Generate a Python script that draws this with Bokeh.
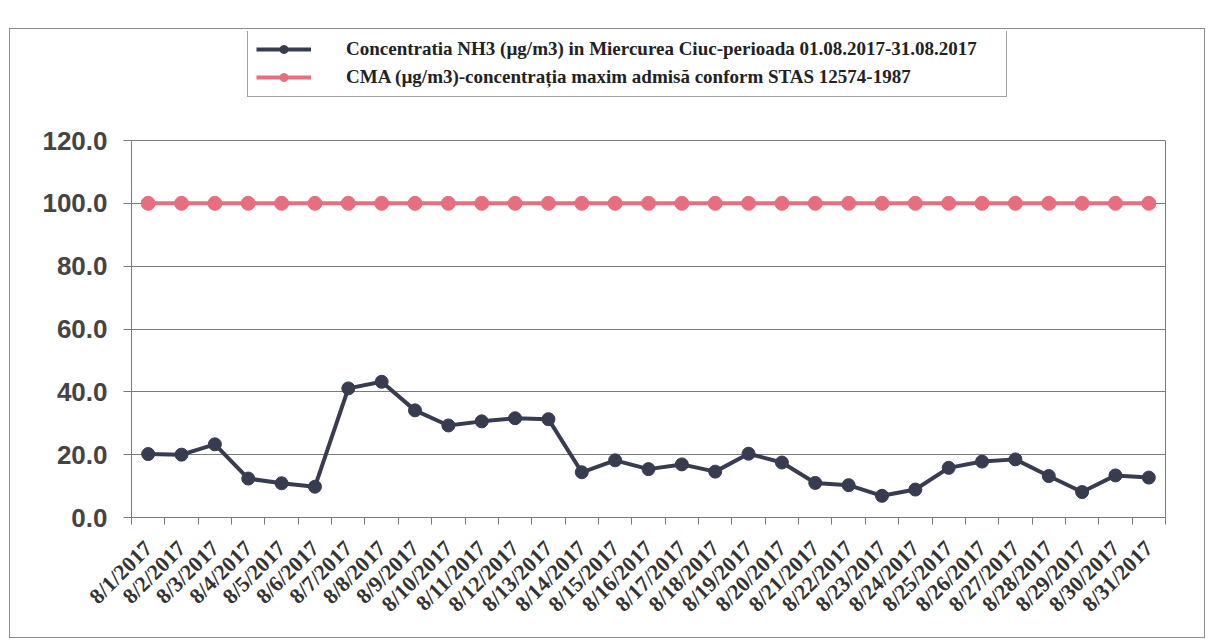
import math
from bokeh.plotting import figure
from bokeh.models import (FixedTicker, Legend, LegendItem, ColumnDataSource,
                          PrintfTickFormatter, LinearAxis)
from bokeh.embed import file_html
from bokeh.resources import INLINE

dates = [f"8/{d}/2017" for d in range(1, 32)]
nh3 = [20.2, 20.0, 23.3, 12.4, 10.9, 9.8, 41.1, 43.2, 34.1, 29.3, 30.6, 31.6, 31.3,
       14.4, 18.2, 15.4, 16.9, 14.6, 20.3, 17.5, 11.0, 10.3, 6.9, 8.9, 15.8, 17.8,
       18.5, 13.2, 8.1, 13.4, 12.7]
cma = [100.0] * 31
y_ticks = [0, 20, 40, 60, 80, 100, 120]
y_max = 120

label_nh3 = "Concentratia NH3 (\u00b5g/m3) in Miercurea Ciuc-perioada 01.08.2017-31.08.2017"
label_cma = "CMA (\u00b5g/m3)-concentra\u021bia maxim admis\u0103 conform STAS 12574-1987"

idx = list(range(len(dates)))
src = ColumnDataSource(dict(x=idx, nh3=nh3, cma=cma))

# frame extends above the value area to hold the legend
H, top, bottom = 610, 2, 122
frame_h = H - top - bottom
value_h = 377
y_end = y_max * frame_h / value_h

p = figure(width=1196, height=H, output_backend="svg", toolbar_location=None,
           x_range=(-0.5, len(dates) - 0.5), y_range=(0, y_end),
           min_border_left=121, min_border_right=41, min_border_top=top,
           min_border_bottom=bottom)
p.styles = {"border": "1.5px solid #8c8c8c", "margin-top": "28px", "margin-left": "9px"}

dark = "#383c50"
red = "#e66e7e"
frame_col = "#7a7a7a"

l1 = p.line("x", "nh3", source=src, line_color=dark, line_width=4)
m1 = p.scatter("x", "nh3", source=src, size=13, fill_color=dark, line_color=dark)
l2 = p.line("x", "cma", source=src, line_color=red, line_width=4)
m2 = p.scatter("x", "cma", source=src, size=14, fill_color=red, line_color=red)

legend = Legend(items=[LegendItem(label=label_nh3, renderers=[l1, m1]),
                       LegendItem(label=label_cma, renderers=[l2, m2])],
                location=(116, 420), orientation="vertical")
legend.label_text_font = "Liberation Serif"
legend.label_text_font_size = "19px"
legend.label_text_font_style = "bold"
legend.label_text_color = "#222222"
legend.glyph_width = 55
legend.glyph_height = 20
legend.label_height = 20
legend.label_standoff = 35
legend.label_width = 652
legend.spacing = 6
legend.padding = 8
legend.margin = 0
legend.border_line_color = "#444444"
legend.border_line_width = 1.5
legend.background_fill_color = "white"
p.add_layout(legend, "center")

# axes
p.yaxis.ticker = FixedTicker(ticks=y_ticks)
p.yaxis.bounds = (0, y_max)
p.yaxis.formatter = PrintfTickFormatter(format="%.1f")
p.yaxis.major_label_text_font = "Liberation Sans"
p.yaxis.major_label_text_font_size = "26px"
p.yaxis.major_label_text_font_style = "bold"
p.yaxis.major_label_text_color = "#444444"
p.yaxis.major_tick_out = 8
p.yaxis.major_tick_in = 0
p.yaxis.minor_tick_line_color = None
p.yaxis.axis_line_color = frame_col
p.yaxis.major_tick_line_color = frame_col
p.yaxis.major_label_standoff = 16

right = LinearAxis(ticker=FixedTicker(ticks=[]), bounds=(0, y_max),
                   axis_line_color=frame_col, major_tick_line_color=None,
                   minor_tick_line_color=None)
p.add_layout(right, "right")

p.xaxis.ticker = FixedTicker(ticks=idx, minor_ticks=[i - 0.5 for i in range(len(dates) + 1)])
p.xaxis.major_label_overrides = {i: d for i, d in zip(idx, dates)}
p.xaxis.major_label_orientation = math.pi / 4
p.xaxis.major_label_text_font = "Liberation Serif"
p.xaxis.major_label_text_font_size = "22px"
p.xaxis.major_label_text_font_style = "bold"
p.xaxis.major_label_text_color = "#333333"
p.xaxis.major_tick_out = 0
p.xaxis.major_tick_in = 0
p.xaxis.minor_tick_out = 7
p.xaxis.minor_tick_in = 0
p.xaxis.minor_tick_line_color = frame_col
p.xaxis.axis_line_color = frame_col
p.xaxis.major_label_standoff = 20

p.xgrid.grid_line_color = None
p.ygrid.ticker = FixedTicker(ticks=y_ticks)
p.ygrid.grid_line_color = frame_col
p.ygrid.grid_line_width = 1
p.outline_line_color = None

open("out.html", "w").write(file_html(p, INLINE))
